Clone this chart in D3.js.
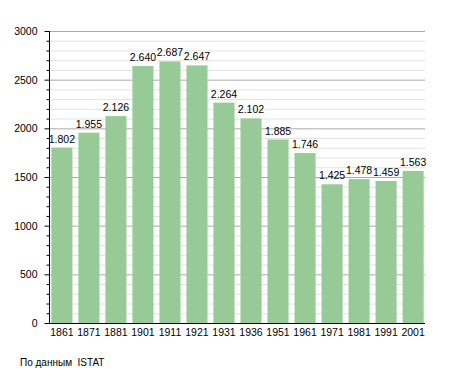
<!DOCTYPE html>
<html>
<head>
<meta charset="utf-8">
<script src="https://cdn.jsdelivr.net/npm/d3@7"></script>
<style>
  body { margin: 0; background: #fff; }
  text { font-family: "Liberation Sans", Arial, sans-serif; font-size: 10.5px; fill: #000; }
</style>
</head>
<body>
<svg id="chart" width="455" height="373"></svg>
<script>
// Census years and population values.
const years = ["1861", "1871", "1881", "1901", "1911", "1921", "1931", "1936", "1951", "1961", "1971", "1981", "1991", "2001"];
const population = [1802, 1955, 2126, 2640, 2687, 2647, 2264, 2102, 1885, 1746, 1425, 1478, 1459, 1563];
const yTicks = [0, 500, 1000, 1500, 2000, 2500, 3000];
const sourceNote = "По данным  ISTAT";

let svg = d3.select("#chart");

let x = d3.scaleBand()
    .domain(years)
    .range([50, 425])
    .paddingInner(0.22)
    .paddingOuter(0.05);

let y = d3.scaleLinear()
    .domain([0, 3000])
    .range([323, 31]);

// Minor grid lines every 100.
svg.append("g")
    .selectAll("line")
    .data(d3.range(100, 3001, 100).filter(v => v % 500 !== 0))
    .enter().append("line")
    .attr("x1", 50).attr("x2", 425)
    .attr("y1", d => y(d) + 0.5).attr("y2", d => y(d) + 0.5)
    .attr("stroke", "#e2e2e2");

// Major grid lines every 500.
svg.append("g")
    .selectAll("line")
    .data(yTicks.filter(v => v > 0))
    .enter().append("line")
    .attr("x1", 50).attr("x2", 425)
    .attr("y1", d => y(d) + 0.5).attr("y2", d => y(d) + 0.5)
    .attr("stroke", "#aaaaaa");

// Bars.
svg.append("g")
    .selectAll("rect")
    .data(population)
    .enter().append("rect")
    .attr("x", (d, i) => x(years[i]))
    .attr("y", d => y(d))
    .attr("width", x.bandwidth())
    .attr("height", d => y(0) - y(d))
    .attr("fill", "#98ca98");

// Value labels, Italian style thousand separator.
svg.append("g")
    .selectAll("text")
    .data(population)
    .enter().append("text")
    .attr("x", (d, i) => x(years[i]) + x.bandwidth() / 2)
    .attr("y", d => y(d) - 5)
    .attr("text-anchor", "middle")
    .text(d => Math.floor(d / 1000) + "." + String(d % 1000).padStart(3, "0"));

// Left axis with minor ticks.
let yAxis = svg.append("g")
    .attr("transform", "translate(49.5,0)");
yAxis.append("line")
    .attr("y1", y(3000)).attr("y2", y(0))
    .attr("stroke", "#000");
yAxis.selectAll(".minor")
    .data(d3.range(0, 3001, 100))
    .enter().append("line")
    .attr("class", "minor")
    .attr("x1", d => d % 500 === 0 ? -5 : -3).attr("x2", 0)
    .attr("y1", d => y(d) + 0.5).attr("y2", d => y(d) + 0.5)
    .attr("stroke", "#000");
yAxis.selectAll("text")
    .data(yTicks)
    .enter().append("text")
    .attr("x", -12)
    .attr("y", d => y(d) + 4)
    .attr("text-anchor", "end")
    .text(d => d);

// Bottom axis.
svg.append("line")
    .attr("x1", 45).attr("x2", 425)
    .attr("y1", 323.5).attr("y2", 323.5)
    .attr("stroke", "#000");
svg.append("g")
    .selectAll("text")
    .data(years)
    .enter().append("text")
    .attr("x", d => x(d) + x.bandwidth() / 2)
    .attr("y", 336)
    .attr("text-anchor", "middle")
    .text(d => d);

svg.append("text")
    .attr("x", 20)
    .attr("y", 366)
    .style("white-space", "pre")
    .style("font-size", "10px")
    .text(sourceNote);
</script>
</body>
</html>
